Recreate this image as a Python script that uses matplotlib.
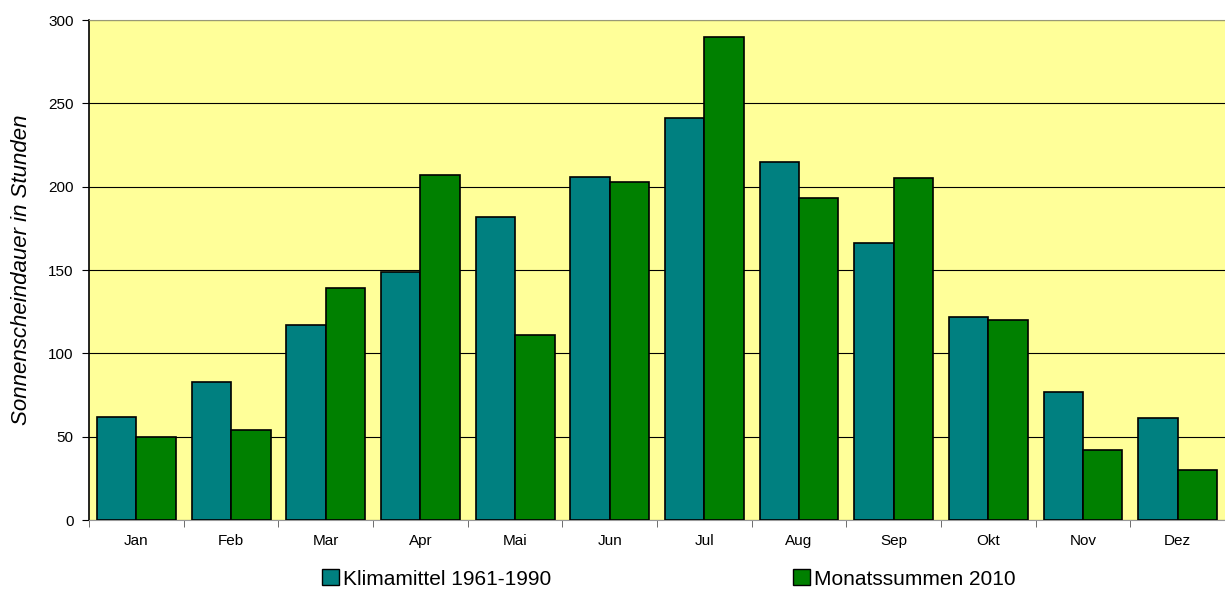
import numpy as np
import matplotlib.pyplot as plt
from matplotlib.patches import Patch

plt.rcParams['font.family'] = ['Liberation Sans', 'DejaVu Sans']

months = ['Jan', 'Feb', 'Mar', 'Apr', 'Mai', 'Jun',
          'Jul', 'Aug', 'Sep', 'Okt', 'Nov', 'Dez']
klimamittel = [62, 83, 117, 149, 182, 206, 241, 215, 166, 122, 77, 61]
monatssummen = [50, 54, 139, 207, 111, 203, 290, 193, 205, 120, 42, 30]

teal = '#008080'
green = '#008000'


def main():
  fig = plt.figure(figsize=(12.25, 5.92), dpi=100)
  ax = fig.add_axes([0.0727, 0.1216, 0.9273, 0.8446])
  ax.set_facecolor('#FFFF99')

  x = np.arange(len(months))
  w = 0.417
  ax.bar(x - w / 2, klimamittel, w, color=teal, edgecolor='black',
         linewidth=1.2, zorder=3)
  ax.bar(x + w / 2, monatssummen, w, color=green, edgecolor='black',
         linewidth=1.2, zorder=3)

  ax.set_xlim(-0.5, len(months) - 0.5)
  ax.set_ylim(0, 300)
  ax.set_yticks(range(0, 301, 50))
  ax.yaxis.grid(True, color='black', linewidth=0.8, zorder=1)
  ax.set_axisbelow(True)

  ax.set_xticks(x)
  ax.set_xticklabels(months, fontsize=11)
  ax.set_xticks(np.arange(-0.5, len(months)), minor=True)
  ax.tick_params(axis='x', which='major', length=0, pad=10)
  ax.tick_params(axis='x', which='minor', length=5, direction='out',
                 color='#555555')
  ax.tick_params(axis='y', length=5, direction='out', labelsize=11, pad=6)

  ax.spines['top'].set_color('#999977')
  ax.spines['right'].set_visible(False)
  ax.spines['bottom'].set_color('#999999')
  ax.spines['left'].set_color('black')
  ax.spines['left'].set_linewidth(1.2)

  ax.set_ylabel('Sonnenscheindauer in Stunden', fontsize=16,
                style='italic', labelpad=12)

  handles = [Patch(facecolor=teal, edgecolor='black', label='Klimamittel 1961-1990'),
             Patch(facecolor=green, edgecolor='black', label='Monatssummen 2010')]
  fig.legend(handles=handles, loc='center', bbox_to_anchor=(0.546, 0.022),
             ncol=2, frameon=False, fontsize=15, handlelength=0.8,
             handleheight=0.8, handletextpad=0.2, columnspacing=11.6,
             borderpad=0.0)

  fig.savefig('out.png', dpi=100)


if __name__ == '__main__':
  main()
